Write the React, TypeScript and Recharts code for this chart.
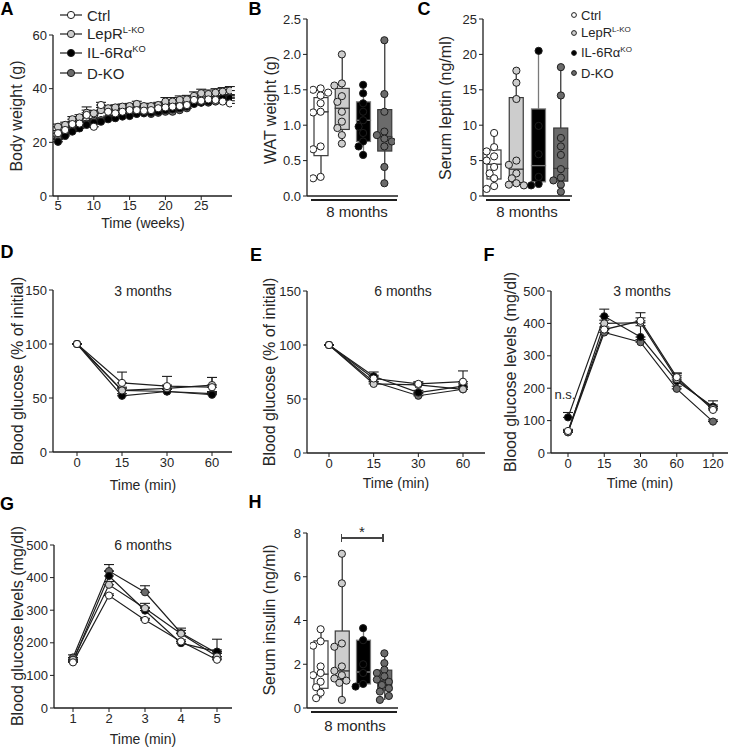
import React from 'react';
import { LineChart, Line, XAxis, YAxis, ErrorBar, ComposedChart, Bar, Scatter } from 'recharts';

const FONT = '"Liberation Sans", Arial, Helvetica, sans-serif';
const INK = '#1e1e1e';
const TXT = '#262626';

const groupNames = ['Ctrl', 'LepR', 'IL-6Rα', 'D-KO'];
const groupSups = ['', 'L-KO', 'KO', ''];
const groupFills = ['#ffffff', '#cdcdcd', '#000000', '#6b6b6b'];
const boxStrokes = ['#3a3a3a', '#3a3a3a', '#7a7a7a', '#3a3a3a'];

// A: body weight by week
const weeks = [5, 6, 7, 8, 9, 10, 11, 12, 13, 14, 15, 16, 17, 18, 19, 20, 21, 22, 23, 24, 25, 26, 27, 28, 29];
const bwCtrl = [23.4, 24.6, 26.8, 27, 30.2, 25.8, 33.9, 31.4, 30.8, 31.4, 32, 32, 31.8, 32, 32.7, 33, 33.3, 33.5, 33.9, 35.8, 35.5, 36, 35.8, 35.2, 34.5];
const bwLepR = [25.8, 26.5, 28.6, 29.3, 31, 30.8, 32, 32.7, 33, 33.3, 33.5, 34.3, 33.5, 33.5, 33.9, 35.2, 35.2, 35.8, 36, 37.3, 38.3, 38, 38.5, 38.9, 39.3];
const bwIL6 = [20.2, 22.4, 24, 25.2, 26.5, 27.3, 27.7, 28.6, 29, 29.6, 29.8, 30.6, 31, 31, 31.4, 32, 32.3, 32.7, 33.3, 34.3, 34.8, 35.2, 36, 36.4, 36.4];
const bwDKO = [21.5, 23.2, 24.8, 25.8, 27, 28, 28.3, 29, 29.3, 30.2, 30.2, 30.8, 30.8, 30.6, 31, 31.4, 31.4, 32, 32.7, 34.8, 34.8, 34.8, 35.2, 35.8, 36.8];
const bwErrCtrl = [1, 1, 1, 1, 3, 1, 1, 1, 1, 1, 1, 1, 1, 1, 1, 1, 1, 1, 1, 1, 1, 1, 1, 1, 1];
const bwErrLepR = [1, 1, 1, 1, 1, 1, 1, 1, 1, 1, 1, 1, 1, 1, 1, 1.5, 1.5, 1.5, 1.5, 1.5, 1.5, 1.5, 1.5, 1.5, 1.5];
const bwErrIL6 = [0.8, 0.8, 0.8, 0.8, 0.8, 0.8, 0.8, 0.8, 0.8, 0.8, 0.8, 0.8, 0.8, 0.8, 0.8, 0.8, 0.8, 0.8, 0.8, 1, 1, 1, 1, 1, 1];
const bwErrDKO = [0.8, 0.8, 0.8, 0.8, 0.8, 0.8, 0.8, 0.8, 0.8, 0.8, 0.8, 0.8, 0.8, 0.8, 0.8, 0.8, 0.8, 0.8, 0.8, 1, 1, 1, 1, 1, 1];

// D, E: insulin tolerance (% of initial)
const ittTimes = ['0', '15', '30', '60'];
const itt3Ctrl = [100, 64, 61, 60];
const itt3LepR = [100, 57, 59, 62];
const itt3IL6 = [100, 52, 56, 53];
const itt3DKO = [100, 57, 56, 54];
const itt3ErrCtrl = [0, 10, 9, 9];
const itt3ErrLepR = [0, 3, 3, 7];
const itt3ErrIL6 = [0, 2, 2, 2];
const itt3ErrDKO = [0, 2, 2, 2];

const itt6Ctrl = [100, 69, 64, 66];
const itt6LepR = [100, 64, 63, 59];
const itt6IL6 = [100, 71, 56, 62];
const itt6DKO = [100, 66, 53, 59];
const itt6ErrCtrl = [0, 3, 2, 10];
const itt6ErrLepR = [0, 2, 2, 2];
const itt6ErrIL6 = [0, 4, 2, 2];
const itt6ErrDKO = [0, 2, 2, 2];

// F: glucose tolerance, 3 months
const gttTimes = ['0', '15', '30', '60', '120'];
const gtt3Ctrl = [68, 381, 408, 234, 133];
const gtt3LepR = [64, 400, 402, 228, 138];
const gtt3IL6 = [110, 422, 358, 222, 143];
const gtt3DKO = [64, 372, 342, 198, 97];
const gtt3ErrCtrl = [5, 8, 25, 12, 10];
const gtt3ErrLepR = [5, 10, 15, 12, 10];
const gtt3ErrIL6 = [15, 22, 35, 25, 18];
const gtt3ErrDKO = [5, 8, 8, 8, 5];

// G: glucose tolerance, 6 months
const gtt6Times = ['1', '2', '3', '4', '5'];
const gtt6Ctrl = [140, 345, 270, 204, 148];
const gtt6LepR = [148, 378, 306, 228, 158];
const gtt6IL6 = [143, 405, 299, 199, 173];
const gtt6DKO = [155, 420, 355, 230, 168];
const gtt6ErrCtrl = [5, 5, 5, 5, 5];
const gtt6ErrLepR = [5, 10, 15, 10, 10];
const gtt6ErrIL6 = [5, 15, 10, 5, 38];
const gtt6ErrDKO = [8, 20, 20, 15, 10];

// B: WAT weight (g)
const watCtrl = [1.52, 1.5, 1.46, 1.42, 1.31, 1.19, 1.18, 0.7, 0.66, 0.27, 0.25];
const watLepR = [2.0, 1.59, 1.56, 1.41, 1.33, 1.19, 1.05, 0.96, 0.86, 0.74];
const watIL6 = [1.57, 1.45, 1.31, 1.19, 1.07, 0.98, 0.89, 0.77, 0.7, 0.58];
const watDKO = [2.2, 1.44, 1.19, 0.91, 0.86, 0.81, 0.77, 0.7, 0.41, 0.18];
const watQ1 = [0.57, 0.94, 0.77, 0.635];
const watMed = [1.19, 1.24, 1.07, 0.84];
const watQ3 = [1.39, 1.52, 1.33, 1.22];

// C: serum leptin (ng/ml)
const lepCtrl = [8.9, 6.9, 6.3, 5.6, 5.0, 4.1, 3.2, 2.5, 1.4, 1.0];
const lepLepR = [17.7, 16.0, 13.7, 5.0, 4.4, 3.2, 2.5, 1.8, 1.6, 1.5];
const lepIL6 = [20.5, 9.9, 5.9, 2.7, 1.7, 1.5];
const lepDKO = [18.2, 14.2, 8.2, 7.0, 5.8, 3.8, 2.6, 2.2, 1.6, 0.6];
const lepQ1 = [2.4, 1.9, 2.0, 2.1];
const lepMed = [4.5, 3.8, 4.3, 3.9];
const lepQ3 = [6.5, 13.9, 12.3, 9.6];

// H: serum insulin (ng/ml)
const insCtrl = [3.6, 3.05, 2.85, 1.9, 1.6, 1.5, 1.2, 0.95, 0.7, 0.45];
const insLepR = [7.05, 5.7, 2.95, 2.8, 1.9, 1.7, 1.5, 1.35, 1.25, 1.15, 0.37];
const insIL6 = [3.65, 3.1, 2.0, 1.6, 1.1, 0.98];
const insDKO = [2.5, 2.05, 1.75, 1.6, 1.45, 1.3, 1.2, 1.05, 0.9, 0.75, 0.55, 0.37];
const insQ1 = [0.9, 1.3, 1.1, 0.82];
const insMed = [1.55, 1.7, 1.65, 1.25];
const insQ3 = [3.07, 3.52, 3.1, 1.73];

const tickStyle = { fontSize: 13, fill: TXT, fontFamily: FONT };
const axisLine = { stroke: INK, strokeWidth: 1.3 };

function Txt({ x, y, size = 14, bold = false, children }: any) {
  return (
    <div style={{ position: 'absolute', left: x, top: y, transform: 'translate(-50%, -50%)', fontSize: size, fontWeight: bold ? 700 : 400, lineHeight: 1, whiteSpace: 'nowrap', color: bold ? '#000' : TXT, fontFamily: FONT }}>
      {children}
    </div>
  );
}

function VTxt({ x, y, size = 16, children }: any) {
  return (
    <div style={{ position: 'absolute', left: x, top: y, transform: 'translate(-50%, -50%) rotate(-90deg)', fontSize: size, lineHeight: 1, whiteSpace: 'nowrap', color: TXT, fontFamily: FONT }}>
      {children}
    </div>
  );
}

function HLine({ x1, x2, y, w = 1.3, color = INK }: any) {
  return <div style={{ position: 'absolute', left: x1, top: y - w / 2, width: x2 - x1, height: w, background: color }} />;
}

function LinePanel({ left, top, width, height, margin, cats, numeric, xDomain, xTicks, yDomain, yTicks, series, errors, pad = [0, 0], tickSize = 13 }: any) {
  const data = cats.map((c: any, i: number) => {
    const row: any = { x: c };
    series.forEach((s: number[], k: number) => {
      row['v' + k] = s[i];
      row['e' + k] = [0, errors[k][i]];
    });
    return row;
  });
  const tick = { ...tickStyle, fontSize: tickSize };
  return (
    <div style={{ position: 'absolute', left, top }}>
      <LineChart width={width} height={height} data={data} margin={margin}>
        {numeric ? (
          <XAxis dataKey="x" type="number" domain={xDomain} ticks={xTicks} allowDataOverflow height={30} tick={tick} tickSize={4} tickMargin={1} axisLine={axisLine} tickLine={{ stroke: INK }} />
        ) : (
          <XAxis dataKey="x" type="category" interval={0} padding={{ left: pad[0], right: pad[1] }} height={30} tick={tick} tickSize={4} tickMargin={2} axisLine={axisLine} tickLine={{ stroke: INK }} />
        )}
        <YAxis domain={yDomain} ticks={yTicks} interval={0} width={40} tick={tick} tickSize={4} tickMargin={2} axisLine={axisLine} tickLine={{ stroke: INK }} />
        {[3, 2, 1, 0].map((k) => (
          <Line
            key={k}
            dataKey={'v' + k}
            stroke={INK}
            strokeWidth={1.2}
            dot={{ r: 3.6, fill: groupFills[k], stroke: INK, strokeWidth: 1 }}
            activeDot={false}
            isAnimationActive={false}
          >
            <ErrorBar dataKey={'e' + k} direction="y" width={5} stroke={INK} strokeWidth={1.1} />
          </Line>
        ))}
      </LineChart>
    </div>
  );
}

function swarmOffsets(values: number[], pxPerUnit: number, bandPx: number) {
  const order = values.map((_, i) => i).sort((a, b) => values[b] - values[a]);
  const placed: { x: number; y: number }[] = [];
  const out = new Array(values.length).fill(0);
  const cands = [0, -4.5, 4.5, -7.5, 7.5, -2.5, 2.5];
  order.forEach((i) => {
    const y = values[i] * pxPerUnit;
    let best = cands[0];
    let bestD = -1;
    for (const c of cands) {
      const d = placed.length ? Math.min(...placed.map((p) => Math.hypot(p.x - c, p.y - y))) : 99;
      if (d >= 6.5) { best = c; bestD = d; break; }
      if (d > bestD) { bestD = d; best = c; }
    }
    placed.push({ x: best, y });
    out[i] = best / bandPx;
  });
  return out;
}

const Whisker = (p: any) => (
  <line x1={p.x + p.width / 2} x2={p.x + p.width / 2} y1={p.y} y2={p.y + p.height} stroke={p.payload.boxStroke} strokeWidth={1.3} />
);
const BoxRect = (p: any) => (
  <rect x={p.x} y={p.y} width={p.width} height={p.height} fill={p.payload.boxFill} stroke={p.payload.boxStroke} strokeWidth={1.2} />
);
const Empty = () => <g />;

function BoxPanel({ left, top, width, height, margin, yDomain, yTicks, fmt, points, q1, med, q3, pad = [0, 0] }: any) {
  const plotW = width - margin.left - margin.right - 40;
  const plotH = height - margin.top - margin.bottom - 1;
  const bandPx = (plotW - pad[0] - pad[1]) / 4;
  const pxPerUnit = plotH / yDomain[1];
  const rows = points.map((pts: number[], i: number) => {
    const lo = Math.min(...pts);
    const hi = Math.max(...pts);
    return {
      name: groupNames[i],
      base: lo,
      lw: q1[i] - lo,
      lb: med[i] - q1[i],
      ub: q3[i] - med[i],
      uw: hi - q3[i],
      boxFill: groupFills[i],
      boxStroke: boxStrokes[i],
    };
  });
  const dots = points.map((pts: number[], i: number) => {
    const offs = swarmOffsets(pts, pxPerUnit, bandPx);
    return pts.map((v, j) => ({ jx: i + offs[j], v }));
  });
  return (
    <div style={{ position: 'absolute', left, top }}>
      <ComposedChart width={width} height={height} data={rows} margin={margin}>
        <XAxis dataKey="name" type="category" height={1} tick={false} tickLine={false} axisLine={axisLine} padding={{ left: pad[0], right: pad[1] }} />
        <XAxis xAxisId="jit" dataKey="jx" type="number" domain={[-0.5, 3.5]} hide allowDataOverflow padding={{ left: pad[0], right: pad[1] }} />
        <YAxis domain={yDomain} ticks={yTicks} interval={0} width={40} tick={tickStyle} tickFormatter={fmt} tickSize={4} tickMargin={2} axisLine={axisLine} tickLine={{ stroke: INK }} />
        <YAxis yAxisId="jy" dataKey="v" type="number" domain={yDomain} hide allowDataOverflow />
        <Bar dataKey="base" stackId="b" barSize={14} shape={Empty} isAnimationActive={false} />
        <Bar dataKey="lw" stackId="b" barSize={14} shape={Whisker} isAnimationActive={false} />
        <Bar dataKey="lb" stackId="b" barSize={14} shape={BoxRect} isAnimationActive={false} />
        <Bar dataKey="ub" stackId="b" barSize={14} shape={BoxRect} isAnimationActive={false} />
        <Bar dataKey="uw" stackId="b" barSize={14} shape={Whisker} isAnimationActive={false} />
        {dots.map((d: any[], i: number) => (
          <Scatter
            key={i}
            data={d}
            xAxisId="jit"
            yAxisId="jy"
            dataKey="v"
            isAnimationActive={false}
            shape={(p: any) => <circle cx={p.cx} cy={p.cy} r={3.6} fill={groupFills[i]} stroke={INK} strokeWidth={1} />}
          />
        ))}
      </ComposedChart>
    </div>
  );
}

function GroupLabel({ name, sup, size }: any) {
  return (
    <span>
      {name}
      {sup ? <span style={{ fontSize: size * 0.62, position: 'relative', top: -size * 0.4 }}>{sup}</span> : null}
    </span>
  );
}

function LegendA() {
  const ys = [15, 34, 53, 73];
  return (
    <>
      {ys.map((y, i) => (
        <React.Fragment key={i}>
          <svg style={{ position: 'absolute', left: 58, top: y - 6 }} width={26} height={12}>
            <line x1={2} x2={24} y1={6} y2={6} stroke={INK} strokeWidth={1.2} />
            <circle cx={13} cy={6} r={3.6} fill={groupFills[i]} stroke={INK} strokeWidth={1} />
          </svg>
          <div style={{ position: 'absolute', left: 87, top: y, transform: 'translateY(-50%)', fontSize: 15, lineHeight: 1, fontFamily: FONT, color: TXT, whiteSpace: 'nowrap' }}>
            <GroupLabel name={groupNames[i]} sup={groupSups[i]} size={15} />
          </div>
        </React.Fragment>
      ))}
    </>
  );
}

function LegendC() {
  const ys = [15, 33, 53, 73];
  return (
    <>
      {ys.map((y, i) => (
        <React.Fragment key={i}>
          <svg style={{ position: 'absolute', left: 570, top: y - 4 }} width={8} height={8}>
            <circle cx={4} cy={4} r={2.4} fill={groupFills[i]} stroke={INK} strokeWidth={1} />
          </svg>
          <div style={{ position: 'absolute', left: 581, top: y, transform: 'translateY(-50%)', fontSize: 13, lineHeight: 1, fontFamily: FONT, color: TXT, whiteSpace: 'nowrap' }}>
            <GroupLabel name={groupNames[i]} sup={groupSups[i]} size={13} />
          </div>
        </React.Fragment>
      ))}
    </>
  );
}

export default function App() {
  return (
    <div style={{ position: 'absolute', left: 0, top: 0, width: 731, height: 750, background: '#fff', fontFamily: FONT, overflow: 'hidden' }}>
      {/* A */}
      <LinePanel
        left={0} top={0} width={240} height={232}
        margin={{ top: 35, right: 8, bottom: 6, left: 13 }}
        cats={weeks} numeric xDomain={[4.3, 29.3]} xTicks={[5, 10, 15, 20, 25]}
        yDomain={[0, 60]} yTicks={[0, 20, 40, 60]} tickSize={13}
        series={[bwCtrl, bwLepR, bwIL6, bwDKO]}
        errors={[bwErrCtrl, bwErrLepR, bwErrIL6, bwErrDKO]}
      />
      <LegendA />
      <Txt x={7} y={9} size={18} bold>A</Txt>
      <VTxt x={17} y={116}>Body weight (g)</VTxt>
      <Txt x={143} y={223} size={14}>Time (weeks)</Txt>

      {/* B */}
      <BoxPanel
        left={250} top={0} width={160} height={232}
        margin={{ top: 19, right: 12, bottom: 35, left: 17 }}
        yDomain={[0, 2.5]} yTicks={[0, 0.5, 1, 1.5, 2, 2.5]} fmt={(v: number) => v.toFixed(1)}
        points={[watCtrl, watLepR, watIL6, watDKO]} q1={watQ1} med={watMed} q3={watQ3} pad={[3, 3]}
      />
      <Txt x={255} y={9} size={18} bold>B</Txt>
      <VTxt x={271} y={110}>WAT weight (g)</VTxt>
      <HLine x1={311} x2={397} y={200} />
      <Txt x={357} y={211} size={15}>8 months</Txt>

      {/* C */}
      <BoxPanel
        left={420} top={0} width={160} height={232}
        margin={{ top: 19, right: 8, bottom: 35, left: 23 }}
        yDomain={[0, 25]} yTicks={[0, 5, 10, 15, 20, 25]}
        points={[lepCtrl, lepLepR, lepIL6, lepDKO]} q1={lepQ1} med={lepMed} q3={lepQ3}
      />
      <LegendC />
      <Txt x={424} y={9} size={18} bold>C</Txt>
      <VTxt x={446} y={108}>Serum leptin (ng/ml)</VTxt>
      <HLine x1={486} x2={570} y={200} />
      <Txt x={527} y={211} size={15}>8 months</Txt>

      {/* D */}
      <LinePanel
        left={0} top={250} width={240} height={240}
        margin={{ top: 40, right: 8, bottom: 8, left: 13 }}
        cats={ittTimes} pad={[24, 20]}
        yDomain={[0, 150]} yTicks={[0, 50, 100, 150]}
        series={[itt3Ctrl, itt3LepR, itt3IL6, itt3DKO]}
        errors={[itt3ErrCtrl, itt3ErrLepR, itt3ErrIL6, itt3ErrDKO]}
      />
      <Txt x={7} y={252} size={18} bold>D</Txt>
      <VTxt x={18} y={371}>Blood glucose (% of initial)</VTxt>
      <Txt x={143} y={291} size={14}>3 months</Txt>
      <Txt x={143} y={485} size={14}>Time (min)</Txt>

      {/* E */}
      <LinePanel
        left={250} top={250} width={240} height={240}
        margin={{ top: 41, right: 5, bottom: 7, left: 17 }}
        cats={ittTimes} pad={[22, 22]}
        yDomain={[0, 150]} yTicks={[0, 50, 100, 150]}
        series={[itt6Ctrl, itt6LepR, itt6IL6, itt6DKO]}
        errors={[itt6ErrCtrl, itt6ErrLepR, itt6ErrIL6, itt6ErrDKO]}
      />
      <Txt x={256} y={255} size={18} bold>E</Txt>
      <VTxt x={270} y={372}>Blood glucose (% of initial)</VTxt>
      <Txt x={403} y={291} size={14}>6 months</Txt>
      <Txt x={396} y={483} size={14}>Time (min)</Txt>

      {/* F */}
      <LinePanel
        left={490} top={250} width={241} height={240}
        margin={{ top: 41, right: 3, bottom: 7, left: 21 }}
        cats={gttTimes} pad={[17, 15]}
        yDomain={[0, 500]} yTicks={[0, 100, 200, 300, 400, 500]}
        series={[gtt3Ctrl, gtt3LepR, gtt3IL6, gtt3DKO]}
        errors={[gtt3ErrCtrl, gtt3ErrLepR, gtt3ErrIL6, gtt3ErrDKO]}
      />
      <Txt x={489} y={255} size={18} bold>F</Txt>
      <VTxt x={511} y={372}>Blood glucose levels (mg/dl)</VTxt>
      <Txt x={642} y={291} size={14}>3 months</Txt>
      <Txt x={565} y={394} size={13}>n.s.</Txt>
      <Txt x={640} y={483} size={14}>Time (min)</Txt>

      {/* G */}
      <LinePanel
        left={0} top={500} width={240} height={250}
        margin={{ top: 45, right: 8, bottom: 12, left: 14 }}
        cats={gtt6Times} pad={[19, 15]}
        yDomain={[0, 500]} yTicks={[0, 100, 200, 300, 400, 500]}
        series={[gtt6Ctrl, gtt6LepR, gtt6IL6, gtt6DKO]}
        errors={[gtt6ErrCtrl, gtt6ErrLepR, gtt6ErrIL6, gtt6ErrDKO]}
      />
      <Txt x={7} y={504} size={18} bold>G</Txt>
      <VTxt x={18} y={626}>Blood glucose levels (mg/dl)</VTxt>
      <Txt x={143} y={545} size={14}>6 months</Txt>
      <Txt x={143} y={739} size={14}>Time (min)</Txt>

      {/* H */}
      <BoxPanel
        left={250} top={500} width={160} height={250}
        margin={{ top: 33, right: 12, bottom: 41, left: 17 }}
        yDomain={[0, 8]} yTicks={[0, 2, 4, 6, 8]}
        points={[insCtrl, insLepR, insIL6, insDKO]} q1={insQ1} med={insMed} q3={insQ3} pad={[3, 3]}
      />
      <Txt x={255} y={502} size={18} bold>H</Txt>
      <VTxt x={270} y={620}>Serum insulin (ng/ml)</VTxt>
      <HLine x1={341} x2={383} y={538} w={1.5} color="#444" />
      <div style={{ position: 'absolute', left: 340.5, top: 534, width: 1.5, height: 8, background: '#444' }} />
      <div style={{ position: 'absolute', left: 382, top: 534, width: 1.5, height: 8, background: '#444' }} />
      <Txt x={362} y={531} size={15}>*</Txt>
      <HLine x1={311} x2={397} y={712} />
      <Txt x={355} y={725} size={15}>8 months</Txt>
    </div>
  );
}
